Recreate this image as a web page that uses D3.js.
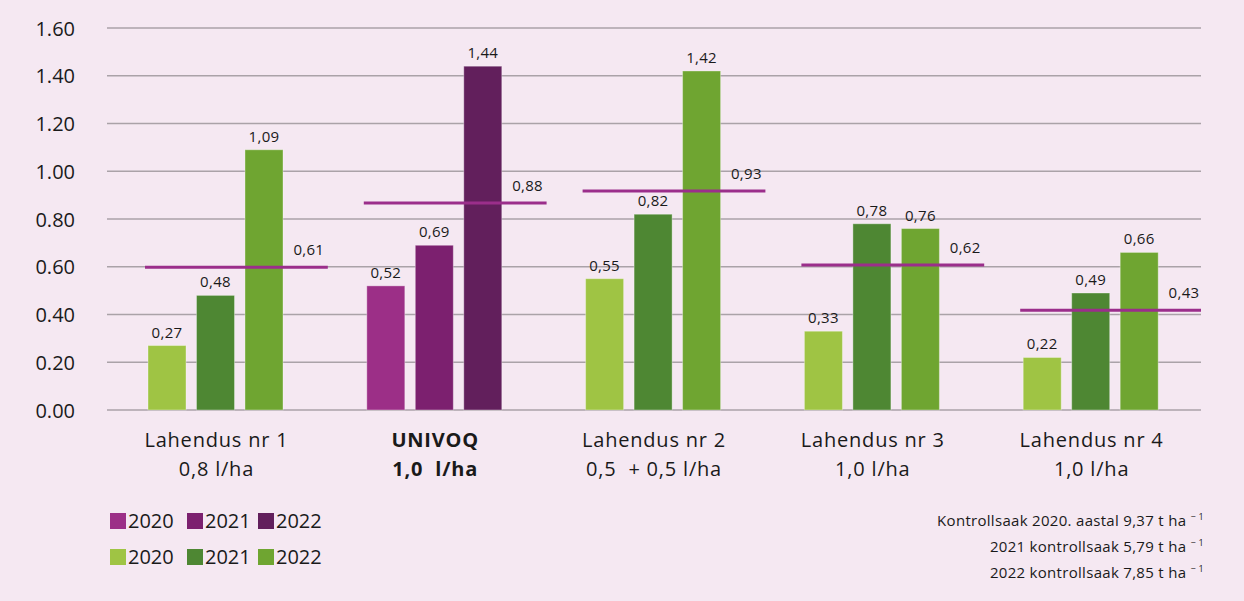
<!DOCTYPE html>
<html>
<head>
<meta charset="utf-8">
<script src="https://cdn.jsdelivr.net/npm/d3@7"></script>
<style>
  body { margin: 0; background: #f5e8f2; }
  svg { display: block; font-family: "Open Sans", "Noto Sans", sans-serif; }
</style>
</head>
<body>
<div id="chart"></div>
<script>
// data
var groups = ["Lahendus nr 1", "UNIVOQ", "Lahendus nr 2", "Lahendus nr 3", "Lahendus nr 4"];
var doses = ["0,8 l/ha", "1,0  l/ha", "0,5  + 0,5 l/ha", "1,0 l/ha", "1,0 l/ha"];
var years = ["2020", "2021", "2022"];
var v2020 = [0.27, 0.52, 0.55, 0.33, 0.22];
var v2021 = [0.48, 0.69, 0.82, 0.78, 0.49];
var v2022 = [1.09, 1.44, 1.42, 0.76, 0.66];
var averages = [0.61, 0.88, 0.93, 0.62, 0.43];
var yTicks = [0, 0.2, 0.4, 0.6, 0.8, 1.0, 1.2, 1.4, 1.6];
var notes = ["Kontrollsaak 2020. aastal 9,37 t ha", "2021 kontrollsaak 5,79 t ha", "2022 kontrollsaak 7,85 t ha"];

var svgWidth = 1244;
var svgHeight = 601;

var purple = ["#9c2f87", "#7c206f", "#621f5c"];
var green = ["#9fc444", "#4e8733", "#6fa531"];
var lineColor = "#9b2e8b";

var svg = d3.select("#chart").append("svg")
  .attr("width", svgWidth)
  .attr("height", svgHeight);

svg.append("rect").attr("width", svgWidth).attr("height", svgHeight).attr("fill", "#f5e8f2");

var x0 = d3.scaleBand().domain(groups).range([107, 1201]);
var x1 = d3.scaleBand().domain(years).range([0, 135]).paddingInner(0.216);
var y = d3.scaleLinear().domain([0, 1.6]).range([410, 28]);

// gridlines
svg.append("g").selectAll("line")
  .data(yTicks).enter().append("line")
  .attr("x1", 107).attr("x2", 1201)
  .attr("y1", d => y(d)).attr("y2", d => y(d))
  .attr("stroke", "#aaa2a8").attr("stroke-width", 1.3);

// y axis labels
var yAxis = svg.append("g")
  .attr("transform", "translate(75,0)")
  .call(d3.axisLeft(y).tickValues(yTicks).tickFormat(d3.format(".2f")).tickSize(0).tickPadding(0));
yAxis.select(".domain").remove();
yAxis.selectAll("text")
  .attr("font-family", "'Open Sans', sans-serif")
  .attr("font-size", 20)
  .attr("font-weight", 500)
  .attr("fill", "#1a1a1a")
  .attr("dy", "0.35em");

var fmt = v => d3.format(".2f")(v).replace(".", ",");

// bars
var rows = [];
groups.forEach(function(g, i) {
  [v2020, v2021, v2022].forEach(function(arr, j) {
    rows.push({ group: g, year: years[j], value: arr[i], gi: i, yi: j });
  });
});

var groupOffset = 41;
var barsGroup = svg.append("g");
barsGroup.selectAll("rect")
  .data(rows).enter().append("rect")
  .attr("x", d => x0(d.group) + groupOffset + x1(d.year))
  .attr("y", d => y(d.value))
  .attr("width", x1.bandwidth())
  .attr("height", d => y(0) - y(d.value))
  .attr("fill", d => d.group === "UNIVOQ" ? purple[d.yi] : green[d.yi])
  .attr("stroke", "rgba(255,255,255,0.35)")
  .attr("stroke-width", 1);

barsGroup.selectAll("text")
  .data(rows).enter().append("text")
  .attr("x", d => x0(d.group) + groupOffset + x1(d.year) + x1.bandwidth() / 2)
  .attr("y", d => y(d.value) - 8)
  .attr("text-anchor", "middle")
  .attr("font-size", 15)
  .attr("letter-spacing", 0.3)
  .attr("fill", "#1a1a1a")
  .text(d => fmt(d.value));

// average lines
var avgGroup = svg.append("g");
avgGroup.selectAll("line")
  .data(averages).enter().append("line")
  .attr("x1", (d, i) => x0(groups[i]) + 38)
  .attr("x2", (d, i) => x0(groups[i]) + x0.bandwidth() + (i === 4 ? 0 : 2))
  .attr("y1", d => y(d) + 3).attr("y2", d => y(d) + 3)
  .attr("stroke", lineColor).attr("stroke-width", 3);

avgGroup.selectAll("text")
  .data(averages).enter().append("text")
  .attr("x", (d, i) => x0(groups[i]) + x0.bandwidth() - 17)
  .attr("y", d => y(d) - 9)
  .attr("text-anchor", "middle")
  .attr("font-size", 15)
  .attr("letter-spacing", 0.3)
  .attr("fill", "#1a1a1a")
  .text(d => fmt(d));

// category labels
var catGroup = svg.append("g");
groups.forEach(function(g, i) {
  var cx = x0(g) + x0.bandwidth() / 2;
  var bold = g === "UNIVOQ" ? 700 : 400;
  catGroup.append("text")
    .attr("x", cx).attr("y", 447)
    .attr("text-anchor", "middle")
    .attr("font-size", 20).attr("font-weight", bold)
    .attr("letter-spacing", 0.8)
    .attr("fill", "#1a1a1a")
    .text(g);
  catGroup.append("text")
    .attr("x", cx).attr("y", 476)
    .attr("text-anchor", "middle")
    .attr("font-size", 20).attr("font-weight", bold)
    .attr("letter-spacing", 0.8)
    .attr("fill", "#1a1a1a")
    .style("white-space", "pre")
    .text(doses[i]);
});

// legend
var legendX = [110, 187, 258];
[purple, green].forEach(function(cols, r) {
  var ly = 521 + r * 36;
  years.forEach(function(yr, j) {
    svg.append("rect")
      .attr("x", legendX[j]).attr("y", ly - 8)
      .attr("width", 16).attr("height", 16)
      .attr("fill", cols[j]);
    svg.append("text")
      .attr("x", legendX[j] + 18).attr("y", ly)
      .attr("dy", "0.35em")
      .attr("font-size", 20)
      .attr("fill", "#1a1a1a")
      .text(yr);
  });
});

// notes
notes.forEach(function(n, i) {
  var t = svg.append("text")
    .attr("x", 1204).attr("y", 526 + i * 26)
    .attr("text-anchor", "end")
    .attr("font-size", 15)
    .attr("letter-spacing", 0.3)
    .attr("fill", "#1a1a1a");
  t.append("tspan").text(n + " ");
  t.append("tspan").attr("dy", -6).attr("font-size", 9).text("\u2212 1");
});
</script>
</body>
</html>
